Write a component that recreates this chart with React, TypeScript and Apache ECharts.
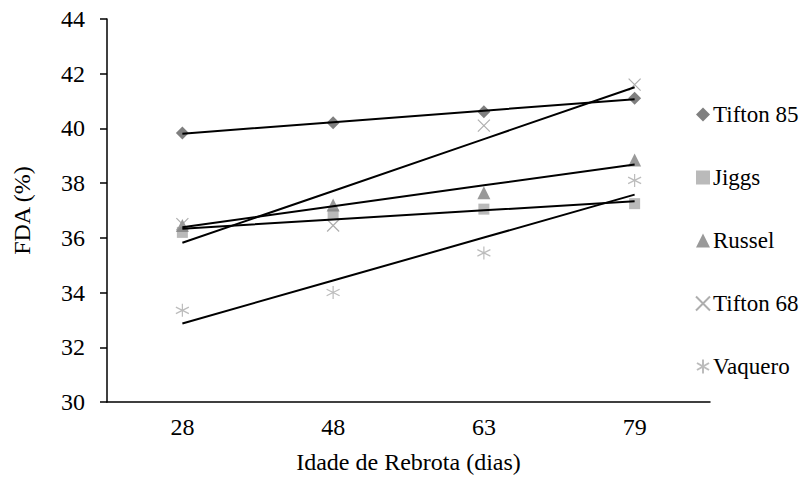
import React, { useEffect, useRef } from "react";
import * as echarts from "echarts";

// Regrowth ages (days) on the category axis
const ages = ["28", "48", "63", "79"];

// FDA (%) by grass cultivar at each regrowth age
const tifton85 = [39.83, 40.21, 40.61, 41.1];
const jiggs = [36.2, 36.85, 37.05, 37.25];
const russel = [36.45, 37.2, 37.65, 38.85];
const tifton68 = [36.5, 36.45, 40.1, 41.6];
const vaquero = [33.35, 34.0, 35.45, 38.1];

const yTicks = [30, 32, 34, 36, 38, 40, 42, 44];

const FONT = "'Liberation Serif', 'Times New Roman', serif";

// Open-stroke marker shapes for the "x" and asterisk cultivars
const CROSS = "path://M0,0L10,10M10,0L0,10";
const STAR = "path://M5,0L5,10M0.7,2.5L9.3,7.5M0.7,7.5L9.3,2.5";

type Cultivar = {
  name: string;
  values: number[];
  symbol: string;
  size: number;
  color: string;
  open?: boolean;
};

const cultivars: Cultivar[] = [
  { name: "Tifton 85", values: tifton85, symbol: "diamond", size: 13, color: "#5f5f5f" },
  { name: "Jiggs", values: jiggs, symbol: "rect", size: 11, color: "#a9a9a9" },
  { name: "Russel", values: russel, symbol: "triangle", size: 13, color: "#7f7f7f" },
  { name: "Tifton 68", values: tifton68, symbol: CROSS, size: 12, color: "#9a9a9a", open: true },
  { name: "Vaquero", values: vaquero, symbol: STAR, size: 13, color: "#ababab", open: true },
];

// Least-squares linear trend over category positions 0..n-1
function trend(values: number[]): number[] {
  const n = values.length;
  const xs = values.map((_, i) => i);
  const mx = xs.reduce((a, b) => a + b, 0) / n;
  const my = values.reduce((a, b) => a + b, 0) / n;
  let sxy = 0;
  let sxx = 0;
  xs.forEach((x, i) => {
    sxy += (x - mx) * (values[i] - my);
    sxx += (x - mx) * (x - mx);
  });
  const slope = sxy / sxx;
  return xs.map((x) => my + slope * (x - mx));
}

export default function App() {
  const ref = useRef<HTMLDivElement>(null);

  useEffect(() => {
    if (!ref.current) return;
    const chart = echarts.init(ref.current, undefined, { renderer: "svg" });

    const scatterSeries = cultivars.map((c) => ({
      name: c.name,
      type: "scatter" as const,
      data: c.values,
      symbol: c.symbol,
      symbolSize: c.size,
      z: 2,
      itemStyle: c.open
        ? { color: "rgba(0,0,0,0)", borderColor: c.color, borderWidth: 1.2 }
        : { color: c.color },
    }));

    const trendSeries = cultivars.map((c) => ({
      name: c.name + " (tendência)",
      type: "line" as const,
      data: trend(c.values),
      symbol: "none",
      z: 3,
      silent: true,
      lineStyle: { color: "#000", width: 2 },
    }));

    chart.setOption({
      animation: false,
      backgroundColor: "#fff",
      textStyle: { fontFamily: FONT },
      grid: { left: 107, right: 100, top: 19, bottom: 77, containLabel: false },
      legend: {
        orient: "vertical",
        left: 690,
        top: 98,
        itemWidth: 14,
        itemHeight: 14,
        itemGap: 40,
        data: cultivars.map((c) => c.name),
        textStyle: { fontFamily: FONT, fontSize: 23, color: "#000", padding: [0, 0, 0, -2] },
      },
      xAxis: {
        type: "category",
        data: ages,
        boundaryGap: true,
        name: "Idade de Rebrota (dias)",
        nameLocation: "middle",
        nameGap: 48,
        nameTextStyle: { fontFamily: FONT, fontSize: 24, color: "#000" },
        axisLine: { lineStyle: { color: "#000", width: 1.5 } },
        axisTick: { show: false },
        axisLabel: { fontFamily: FONT, fontSize: 24, color: "#000", margin: 13 },
      },
      yAxis: {
        type: "value",
        min: yTicks[0],
        max: yTicks[yTicks.length - 1],
        interval: yTicks[1] - yTicks[0],
        name: "FDA (%)",
        nameLocation: "middle",
        nameGap: 73,
        nameTextStyle: { fontFamily: FONT, fontSize: 24, color: "#000" },
        axisLine: { show: true, lineStyle: { color: "#000", width: 1.5 } },
        axisTick: { show: true, length: 7, lineStyle: { color: "#000", width: 1.5 } },
        axisLabel: { fontFamily: FONT, fontSize: 24, color: "#000", margin: 22 },
        splitLine: { show: false },
      },
      series: [...scatterSeries, ...trendSeries],
    });

    return () => chart.dispose();
  }, []);

  return (
    <div
      ref={ref}
      style={{ position: "fixed", left: 0, top: 0, width: 810, height: 479 }}
    />
  );
}
